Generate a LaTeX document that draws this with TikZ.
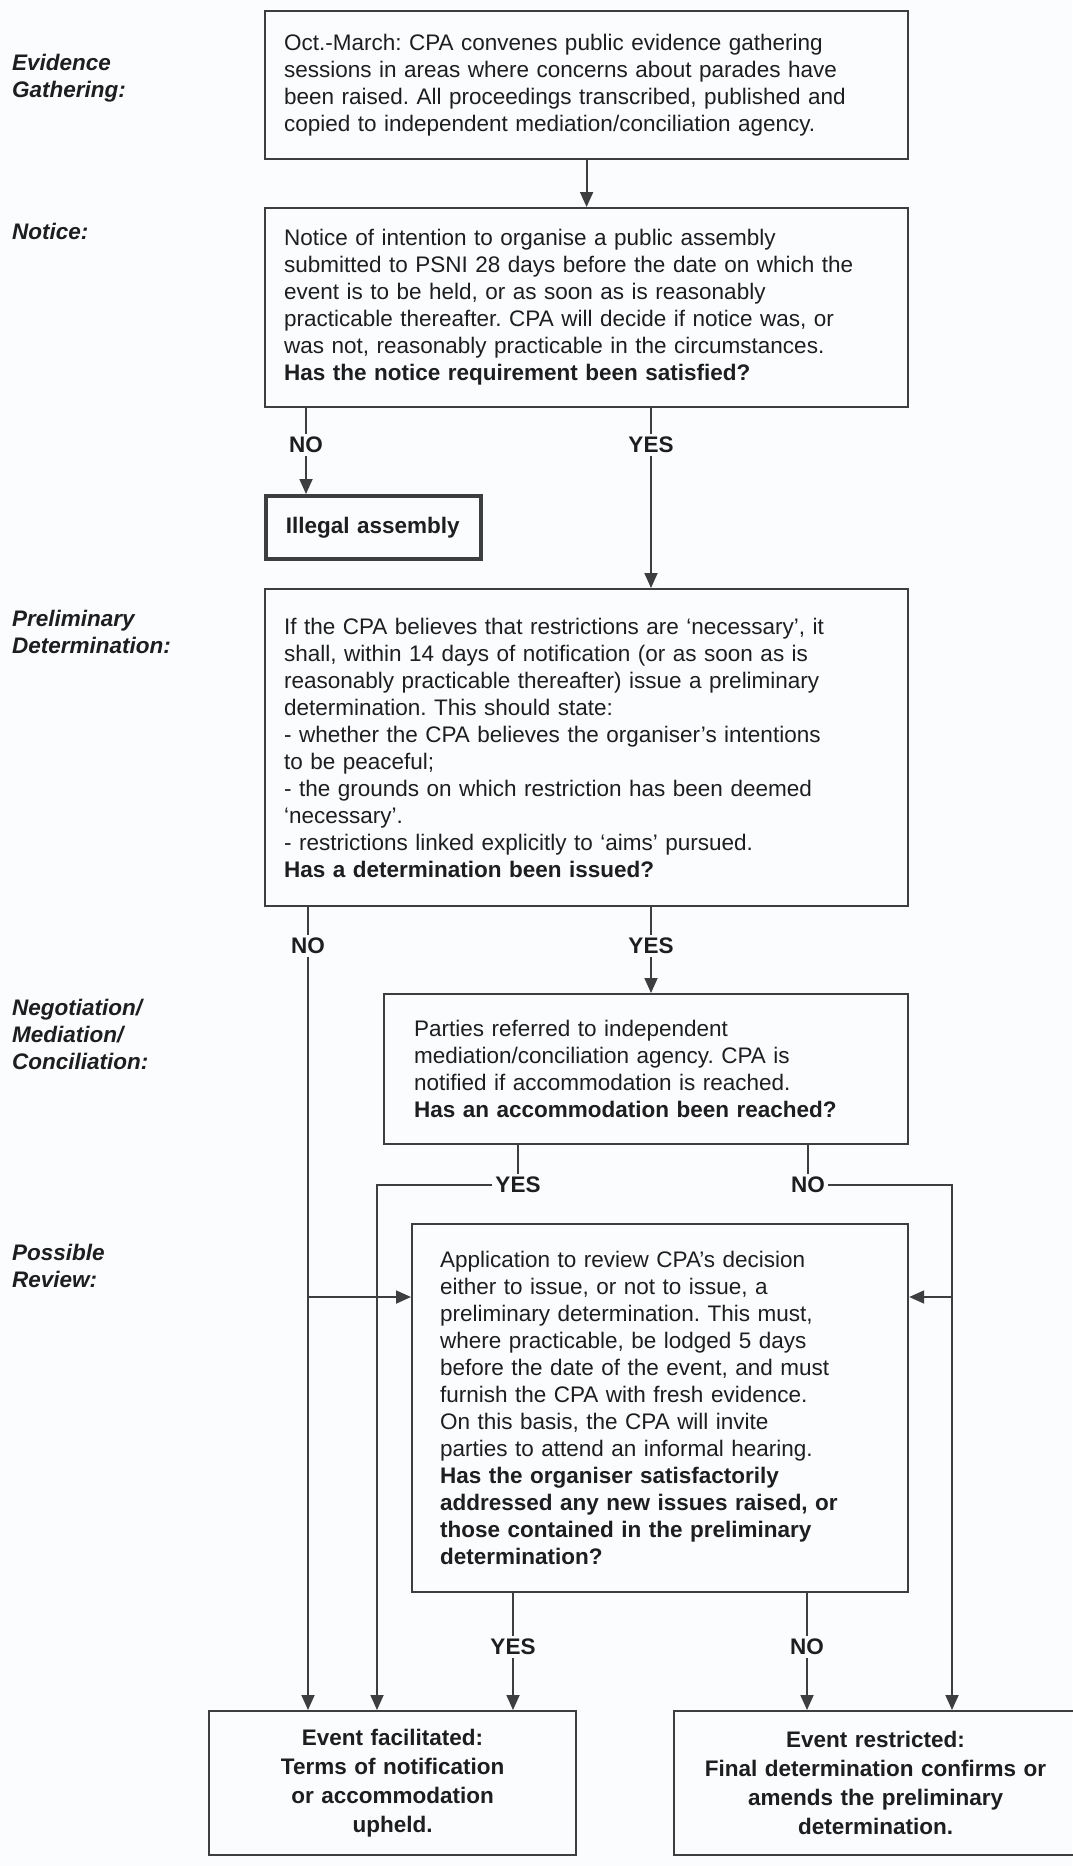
\documentclass[tikz,border=0pt]{standalone}
\usepackage{fontspec}
\setmainfont{Liberation Sans}
\usetikzlibrary{arrows.meta}
\definecolor{linec}{RGB}{62,62,62}
\definecolor{txtc}{RGB}{30,30,30}
\definecolor{bgc}{RGB}{250,252,253}
\frenchspacing
\begin{document}
\begin{tikzpicture}[x=1pt,y=-1pt,
  boxnode/.style={font=\fontsize{22.5}{27}\selectfont, text=txtc, draw=linec, line width=2.2pt, rectangle, anchor=north west, align=left, inner ysep=0pt},
  finalbox/.style={font=\fontsize{22.5}{29}\selectfont\bfseries, text=txtc, draw=linec, line width=2.2pt, rectangle, anchor=north west, align=center, inner ysep=0pt},
  sidelabel/.style={font=\fontsize{22.5}{27}\selectfont\bfseries\itshape, text=txtc, anchor=west, align=left, inner sep=0pt},
  yn/.style={font=\fontsize{22.5}{27}\selectfont\bfseries, text=txtc, fill=bgc, inner sep=3pt},
  conn/.style={draw=linec, line width=1.8pt},
  arr/.style={conn, -{Triangle[length=15pt,width=13pt]}},
]
\useasboundingbox (0,0) rectangle (1072,1866);
\fill[bgc] (0,0) rectangle (1072,1866);

% side labels
\node[sidelabel] (lev) at (12,78.5) {Evidence\\Gathering:};
\node[sidelabel] (lno) at (12,231) {Notice:};
\node[sidelabel] (lpr) at (12,632) {Preliminary\\Determination:};
\node[sidelabel] (lne) at (12,1034) {Negotiation/\\Mediation/\\Conciliation:};
\node[sidelabel] (lpo) at (12,1266) {Possible\\Review:};

% boxes
\node[boxnode, minimum width=643pt, minimum height=148pt, text width=605pt, inner xsep=19pt] (b1) at (264,10)
{Oct.-March: CPA convenes public evidence gathering\\
sessions in areas where concerns about parades have\\
been raised. All proceedings transcribed, published and\\
copied to independent mediation/conciliation agency.};

\node[boxnode, minimum width=643pt, minimum height=199pt, text width=605pt, inner xsep=19pt] (b2) at (264,207)
{Notice of intention to organise a public assembly\\
submitted to PSNI 28 days before the date on which the\\
event is to be held, or as soon as is reasonably\\
practicable thereafter. CPA will decide if notice was, or\\
was not, reasonably practicable in the circumstances.\\
\textbf{Has the notice requirement been satisfied?}};

\node[boxnode, line width=3.5pt, minimum width=215pt, minimum height=63pt, text width=187pt, inner xsep=14pt] (il) at (264,494)
{\hspace*{6pt}\mbox{\textbf{Illegal assembly}}};

\node[boxnode, minimum width=643pt, minimum height=317pt, text width=605pt, inner xsep=19pt] (b3) at (264,588)
{If the CPA believes that restrictions are `necessary', it\\
shall, within 14 days of notification (or as soon as is\\
reasonably practicable thereafter) issue a preliminary\\
determination. This should state:\\
- whether the CPA believes the organiser's intentions\\
to be peaceful;\\
- the grounds on which restriction has been deemed\\
`necessary'.\\
- restrictions linked explicitly to `aims' pursued.\\
\textbf{Has a determination been issued?}};

\node[boxnode, minimum width=524pt, minimum height=150pt, text width=464pt, inner xsep=30pt] (b4) at (383,993)
{Parties referred to independent\\
mediation/conciliation agency. CPA is\\
notified if accommodation is reached.\\
\textbf{Has an accommodation been reached?}};

\node[boxnode, minimum width=496pt, minimum height=368pt, text width=440pt, inner xsep=28pt] (b5) at (411,1223)
{Application to review CPA's decision\\
either to issue, or not to issue, a\\
preliminary determination. This must,\\
where practicable, be lodged 5 days\\
before the date of the event, and must\\
furnish the CPA with fresh evidence.\\
On this basis, the CPA will invite\\
parties to attend an informal hearing.\\
\textbf{Has the organiser satisfactorily}\\
\textbf{addressed any new issues raised, or}\\
\textbf{those contained in the preliminary}\\
\textbf{determination?}};

\node[finalbox, minimum width=367pt, minimum height=144pt, text width=347pt, inner xsep=10pt] (fa) at (208,1710)
{Event facilitated:\\Terms of notification\\or accommodation\\upheld.};

\node[finalbox, minimum width=403pt, minimum height=144pt, text width=383pt, inner xsep=10pt] (fb) at (673,1710)
{Event restricted:\\Final determination confirms or\\amends the preliminary\\determination.};

% yes/no labels
\node[yn] (n1) at (306,445) {NO};
\node[yn] (y1) at (651,445) {YES};
\node[yn] (n2) at (308,946) {NO};
\node[yn] (y2) at (651,946) {YES};
\node[yn] (y3) at (518,1185) {YES};
\node[yn] (n3) at (808,1185) {NO};
\node[yn] (y4) at (513,1647) {YES};
\node[yn] (n4) at (807,1647) {NO};

\coordinate (cY) at (377,1185);
\coordinate (cN) at (952,1185);
\coordinate (j1) at (308,1297);
\coordinate (j2) at (952,1297);

% connectors
\draw[arr] (b1) -- (b2);
\draw[conn] (b2.south -| n1) -- (n1.north);
\draw[arr] (n1.south) -- (il.north -| n1);
\draw[conn] (b2.south -| y1) -- (y1.north);
\draw[arr] (y1.south) -- (b3.north -| y1);
\draw[conn] (b3.south -| n2) -- (n2.north);
\draw[arr] (n2.south) -- (fa.north -| n2);
\draw[conn] (b3.south -| y2) -- (y2.north);
\draw[arr] (y2.south) -- (b4.north -| y2);
\draw[conn] (b4.south -| y3) -- (y3.north);
\draw[arr] (y3.west) -- (cY) -- (fa.north -| cY);
\draw[conn] (b4.south -| n3) -- (n3.north);
\draw[arr] (n3.east) -- (cN) -- (fb.north -| cN);
\draw[arr] (j1) -- (j1 -| b5.west);
\draw[arr] (j2) -- (j2 -| b5.east);
\draw[conn] (b5.south -| y4) -- (y4.north);
\draw[arr] (y4.south) -- (fa.north -| y4);
\draw[conn] (b5.south -| n4) -- (n4.north);
\draw[arr] (n4.south) -- (fb.north -| n4);
\end{tikzpicture}
\end{document}
